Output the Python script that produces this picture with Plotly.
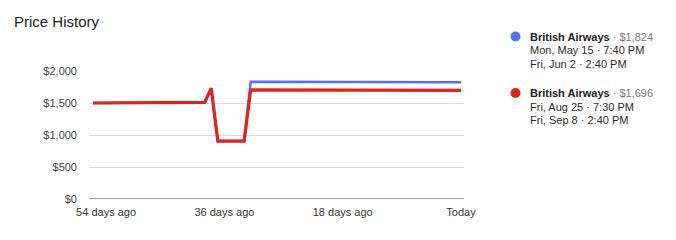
import plotly.graph_objects as go

# ---- data ----
days = list(range(-56, 1))  # days relative to today
red_vals = ([1500] * 7 + [1510] * 11 + [1730] + [905] * 5 +
            [1705] * 13 + [1700] * 12 + [1696] * 8)
blue_vals = ([1500] * 7 + [1510] * 11 + [1730] + [905] * 5 +
             [1832] * 13 + [1828] * 12 + [1824] * 8)
tick_vals = [-54, -36, -18, 0]
tick_text = ["54 days ago", "36 days ago", "18 days ago", "Today"]
y_ticks = [0, 500, 1000, 1500, 2000]
y_text = ["$0", "$500", "$1,000", "$1,500", "$2,000"]

legend_items = [
    ("British Airways", "$1,824", "Mon, May 15 · 7:40 PM", "Fri, Jun 2 · 2:40 PM"),
    ("British Airways", "$1,696", "Fri, Aug 25 · 7:30 PM", "Fri, Sep 8 · 2:40 PM"),
]
BLUE = "#5570F1"
RED = "#E2231D"
colors = [BLUE, RED]

W, H = 676, 240
L, R_, T, B = 89, 464, 71, 199.3
FONT = "Arial, Liberation Sans, sans-serif"


def px_x(px):
    return (px - L) / (R_ - L)


def px_y(py):
    return (B - py) / (B - T)


fig = go.Figure()
fig.add_trace(go.Scatter(x=days, y=blue_vals, mode="lines",
                         line=dict(color=BLUE, width=2.5), hoverinfo="skip"))
fig.add_trace(go.Scatter(x=days, y=red_vals, mode="lines",
                         line=dict(color=RED, width=3.2), hoverinfo="skip"))

annotations = []
annotations.append(dict(text="Price History", x=px_x(12), y=px_y(21),
                        xref="paper", yref="paper", showarrow=False,
                        xanchor="left", yanchor="middle",
                        font=dict(size=15, color="#222", family=FONT)))

shapes = []
block_tops = [36.5, 93]
for i, (name, price, l2, l3) in enumerate(legend_items):
    cy = block_tops[i]
    shapes.append(dict(type="circle", xref="paper", yref="paper",
                       xsizemode="pixel", ysizemode="pixel",
                       xanchor=px_x(515.5), yanchor=px_y(cy),
                       x0=-5, x1=5, y0=-5, y1=5,
                       fillcolor=colors[i], line=dict(width=0)))
    annotations.append(dict(
        text=f"<b>{name}</b><span style='color:#777'> · {price}</span>",
        x=px_x(527.5), y=px_y(cy), xref="paper", yref="paper", showarrow=False,
        xanchor="left", yanchor="middle",
        font=dict(size=11, color="#222", family=FONT)))
    annotations.append(dict(text=l2, x=px_x(527.5), y=px_y(cy + 13.7),
                            xref="paper", yref="paper", showarrow=False,
                            xanchor="left", yanchor="middle",
                            font=dict(size=11, color="#2a2a2a", family=FONT)))
    annotations.append(dict(text=l3, x=px_x(527.5), y=px_y(cy + 27),
                            xref="paper", yref="paper", showarrow=False,
                            xanchor="left", yanchor="middle",
                            font=dict(size=11, color="#2a2a2a", family=FONT)))

fig.update_layout(
    width=W, height=H,
    margin=dict(l=L, r=W - R_, t=T, b=H - B),
    paper_bgcolor="white", plot_bgcolor="white",
    showlegend=False,
    annotations=annotations, shapes=shapes,
    font=dict(family=FONT, size=11, color="#444"),
    xaxis=dict(range=[-56.6, 0.45], tickmode="array", tickvals=tick_vals,
               ticktext=tick_text, showgrid=False, zeroline=False,
               showline=False, ticks="", ticklabelstandoff=5,
               tickfont=dict(size=11, color="#333")),
    yaxis=dict(range=[0, 2000], tickmode="array", tickvals=y_ticks,
               ticktext=y_text, showgrid=True, gridcolor="#dcdcdc",
               gridwidth=1, zeroline=False, showline=False, ticks="",
               ticklabelstandoff=11, tickfont=dict(size=11, color="#444")),
)
fig.add_shape(type="line", xref="paper", yref="y", x0=0, x1=1, y0=0, y1=0,
              line=dict(color="#333", width=1))
fig.write_html("out.html")
